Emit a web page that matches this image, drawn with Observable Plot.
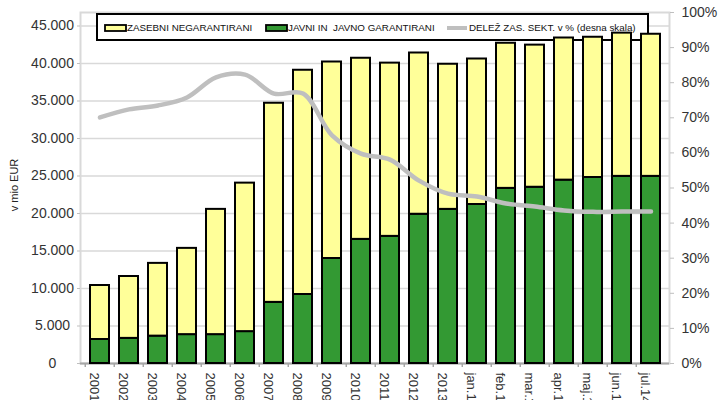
<!DOCTYPE html>
<html>
<head>
<meta charset="utf-8">
<script src="https://cdn.jsdelivr.net/npm/d3@7"></script>
<script src="https://cdn.jsdelivr.net/npm/@observablehq/plot@0.6"></script>
<style>
  html, body { margin: 0; padding: 0; background: #fff; }
  #chart { width: 719px; height: 400px; overflow: hidden; }
  svg { font-family: "Liberation Sans", Arial, sans-serif; }
</style>
</head>
<body>
<div id="chart"></div>
<script>
// ---- data ----
const categories = ["2001","2002","2003","2004","2005","2006","2007","2008","2009","2010","2011","2012","2013","jan.14","feb.14","mar.14","apr.14","maj.14","jun.14","jul.14"];
const javni    = [3200,3350,3650,3850,3850,4250,8150,9200,14000,16550,16950,19900,20550,21200,23350,23500,24450,24800,24950,24950];
const zasebni  = [7200,8250,9700,11500,16700,19800,26550,29900,26200,24150,23100,21500,19350,19400,19350,18950,18950,18700,19100,18950];
const delez    = [70.1,72.4,73.5,75.8,81.5,82.3,76.9,76.9,65.0,59.8,58.1,52.1,48.4,47.6,45.6,44.7,43.6,43.2,43.3,43.3];
const leftTicks  = [0,5000,10000,15000,20000,25000,30000,35000,40000,45000];
const rightTicks = [0,10,20,30,40,50,60,70,80,90,100];
const seriesNames = ["JAVNI IN  JAVNO GARANTIRANI", "ZASEBNI NEGARANTIRANI"];
const lineName = "DELEŽ ZAS. SEKT. v % (desna skala)";
const yLabel = "v mio EUR";

const YMAX = 46800;
const fmt = d3.formatLocale({decimal: ",", thousands: ".", grouping: [3], currency: ["", ""]}).format(",.0f");

const rows = [];
categories.forEach((c, i) => {
  rows.push({kat: c, serija: seriesNames[0], v: javni[i]});
  rows.push({kat: c, serija: seriesNames[1], v: zasebni[i]});
});
const lineRows = categories.map((c, i) => ({kat: c, p: delez[i]}));

const legendMark = () => {
  const g = d3.create("svg:g").attr("text-anchor", "start");
  g.append("rect").attr("x", 97).attr("y", 14).attr("width", 551).attr("height", 26)
    .attr("fill", "#fff").attr("stroke", "#000").attr("stroke-width", 2);
  const items = [
    {x: 105, type: "rect", fill: "#ffff99", label: seriesNames[1]},
    {x: 266, type: "rect", fill: "#339933", label: seriesNames[0]},
    {x: 447, type: "line", fill: "#bfbfbf", label: lineName}
  ];
  items.forEach(it => {
    if (it.type === "rect") {
      g.append("rect").attr("x", it.x).attr("y", 25).attr("width", 21).attr("height", 6)
        .attr("fill", it.fill).attr("stroke", "#000").attr("stroke-width", 1.8);
    } else {
      g.append("line").attr("x1", it.x).attr("x2", it.x + 20).attr("y1", 28).attr("y2", 28)
        .attr("stroke", it.fill).attr("stroke-width", 4);
    }
    g.append("text").attr("x", it.x + 22).attr("y", 28).attr("dy", "0.35em")
      .attr("text-anchor", "start").attr("font-size", 9.8).attr("fill", "#111")
      .style("white-space", "pre").text(it.label);
  });
  g.append("text").attr("transform", "translate(14,185) rotate(-90)")
    .attr("text-anchor", "middle").attr("dy", "0.35em").attr("font-size", 11).attr("fill", "#222").text(yLabel);
  return g.node();
};

const chart = Plot.plot({
  width: 719,
  height: 400,
  marginLeft: 80,
  marginRight: 50,
  marginTop: 12,
  marginBottom: 37,
  style: {fontFamily: "Liberation Sans, Arial, sans-serif", background: "#fff"},
  x: {domain: categories, paddingInner: 0.35, paddingOuter: 0.175, axis: null},
  y: {domain: [0, YMAX], axis: null},
  color: {domain: seriesNames, range: ["#339933", "#ffff99"]},
  marks: [
    Plot.gridY(leftTicks.slice(1), {stroke: "#d9d9d9", strokeOpacity: 1, strokeWidth: 1.5}),
    Plot.frame({stroke: "#d9d9d9", strokeWidth: 2}),
    Plot.axisY({ticks: leftTicks, tickFormat: fmt, tickSize: 3, tickPadding: 25, textAnchor: "middle",
      fontSize: 14, label: null, stroke: "#bfbfbf", fill: "#333"}),
    Plot.axisY({anchor: "right", ticks: rightTicks.map(p => p * YMAX / 100),
      tickFormat: v => Math.round(v / YMAX * 100) + "%", tickSize: 4, tickPadding: 8,
      fontSize: 14, label: null, stroke: "#bfbfbf", fill: "#333"}),
    Plot.axisX({tickRotate: 90, tickSize: 0, tickPadding: 9, dx: -6, fontSize: 13, label: null, fill: "#333"}),
    Plot.ruleX(categories, {x: d => d, y1: 0, y2: 0, insetBottom: -4, dx: -14.725, stroke: "#a6a6a6", strokeWidth: 1.5}),
    Plot.ruleY([0], {stroke: "#a6a6a6", strokeWidth: 2}),
    legendMark,
    Plot.barY(rows, {x: "kat", y: "v", fill: "serija", stroke: "#000", strokeWidth: 2}),
    Plot.line(lineRows, {x: "kat", y: d => d.p * YMAX / 100, stroke: "#bfbfbf", strokeWidth: 4.5, curve: "catmull-rom"})
  ]
});
document.getElementById("chart").appendChild(chart);
</script>
</body>
</html>
